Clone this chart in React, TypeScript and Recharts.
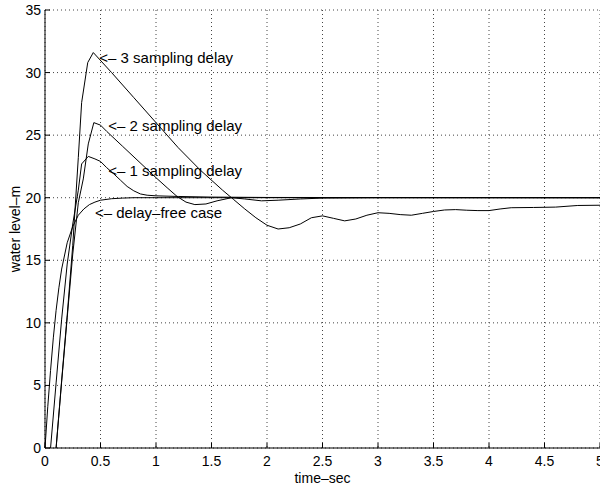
import {
  CartesianGrid,
  Label,
  Line,
  LineChart,
  ReferenceDot,
  XAxis,
  YAxis,
} from "recharts";

const xTicks = [0, 0.5, 1, 1.5, 2, 2.5, 3, 3.5, 4, 4.5, 5];
const yTicks = [0, 5, 10, 15, 20, 25, 30, 35];

// delay-free case
const freeT = [0, 0.025, 0.05, 0.075, 0.1, 0.125, 0.15, 0.2, 0.25, 0.3, 0.35, 0.4, 0.45, 0.5, 0.6, 0.7, 0.8, 1, 5];
const freeY = [0, 3.3, 6.2, 8.8, 11, 12.8, 14.3, 16.4, 17.7, 18.6, 19.1, 19.45, 19.65, 19.8, 19.92, 19.97, 20, 20, 20];

// 1 sampling delay
const d1T = [0.05, 0.1, 0.15, 0.2, 0.25, 0.3, 0.33, 0.39, 0.45, 0.5, 0.556, 0.62, 0.68, 0.74, 0.8, 0.86, 0.92, 1, 1.2, 1.5, 2, 5];
const d1Y = [0, 5.2, 10.3, 14.7, 17.9, 20.6, 22.7, 23.3, 23.1, 22.9, 22.4, 21.9, 21.4, 20.9, 20.55, 20.3, 20.2, 20.15, 20.1, 20.05, 20.02, 20];

// 2 sampling delay
const d2T = [0.1, 0.15, 0.2, 0.25, 0.3, 0.345, 0.39, 0.44, 0.5, 0.556, 0.7, 0.856, 1, 1.1, 1.19, 1.27, 1.35, 1.45, 1.55, 1.68, 1.8, 1.95, 2.1, 2.3, 2.5, 3, 5];
const d2Y = [0, 5.3, 10.4, 15.5, 19.6, 21.5, 24.3, 26, 25.8, 25.3, 24.1, 22.8, 21.6, 20.8, 20.1, 19.65, 19.45, 19.5, 19.75, 20, 19.9, 19.75, 19.8, 19.9, 19.97, 20, 20];

// 3 sampling delay
const d3T = [0.1, 0.15, 0.2, 0.25, 0.3, 0.33, 0.385, 0.435, 0.6, 0.8, 1, 1.2, 1.4, 1.6, 1.7, 1.8, 1.9, 2, 2.1, 2.2, 2.3, 2.4, 2.5, 2.6, 2.7, 2.8, 2.9, 3, 3.1, 3.2, 3.3, 3.4, 3.5, 3.6, 3.7, 3.8, 3.9, 4, 4.1, 4.2, 4.4, 4.6, 4.8, 5];
const d3Y = [0, 5.4, 10.6, 16.2, 23.2, 27.6, 30.8, 31.6, 30, 28, 26, 24, 22.2, 20.6, 19.85, 19.1, 18.4, 17.8, 17.5, 17.6, 17.9, 18.4, 18.55, 18.35, 18.15, 18.3, 18.6, 18.8, 18.75, 18.65, 18.6, 18.75, 18.9, 19.02, 19.05, 19, 18.97, 18.97, 19.1, 19.2, 19.22, 19.25, 19.38, 19.4];

const noteText = ["<\u2013 3 sampling delay", "<\u2013 2 sampling delay", "<\u2013 1 sampling delay", "<\u2013 delay\u2013free case"];
const noteX = [0.489, 0.57, 0.57, 0.45];
const noteY = [31.18, 25.76, 22.2, 18.8];

const toPoints = (t: number[], v: number[]) => t.map((x, i) => ({ t: x, v: v[i] }));

const series = [
  toPoints(freeT, freeY),
  toPoints(d1T, d1Y),
  toPoints(d2T, d2Y),
  toPoints(d3T, d3Y),
];

const font = "'Liberation Sans', Arial, Helvetica, sans-serif";
const fmt = (v: number) => String(v);

const BottomTick = ({ x, y, payload }: any) => (
  <g>
    <line x1={x} x2={x} y1={y} y2={y - 5} stroke="#000" />
    <text x={x} y={y + 18} textAnchor="middle" fontSize={14} fontFamily={font} fill="#000">
      {fmt(payload.value)}
    </text>
  </g>
);

const LeftTick = ({ x, y, payload }: any) => (
  <g>
    <line x1={x} x2={x + 5} y1={y} y2={y} stroke="#000" />
    <text x={x - 4} y={y + 5} textAnchor="end" fontSize={14} fontFamily={font} fill="#000">
      {fmt(payload.value)}
    </text>
  </g>
);

const TopTick = ({ x, y }: any) => <line x1={x} x2={x} y1={y} y2={y + 5} stroke="#000" />;
const RightTick = ({ x, y }: any) => <line x1={x} x2={x - 5} y1={y} y2={y} stroke="#000" />;

export default function App() {
  return (
    <div style={{ position: "absolute", left: 0, top: 0, background: "#fff" }}>
      <LineChart width={600} height={488} margin={{ top: 10, right: 0, bottom: 0, left: 0 }}>
        <CartesianGrid stroke="#444" strokeDasharray="1 3" horizontalValues={yTicks} verticalValues={xTicks} />
        <XAxis
          dataKey="t"
          type="number"
          domain={[0, 5]}
          ticks={xTicks}
          height={40}
          tickSize={0}
          tickMargin={0}
          tickLine={false}
          tick={<BottomTick />}
          axisLine={{ stroke: "#000" }}
          interval={0}
        >
          <Label value={"time\u2013sec"} position="insideBottom" offset={5} fontSize={14} fontFamily={font} fill="#000" />
        </XAxis>
        <XAxis
          xAxisId="top"
          orientation="top"
          type="number"
          domain={[0, 5]}
          ticks={xTicks}
          height={0}
          tickSize={0}
          tickMargin={0}
          tickLine={false}
          tick={<TopTick />}
          axisLine={{ stroke: "#000" }}
          interval={0}
        />
        <YAxis
          type="number"
          domain={[0, 35]}
          ticks={yTicks}
          width={45}
          tickSize={0}
          tickMargin={0}
          tickLine={false}
          tick={<LeftTick />}
          axisLine={{ stroke: "#000" }}
          interval={0}
        >
          <Label
            value={"water level\u2013m"}
            angle={-90}
            position="insideLeft"
            offset={15}
            fontSize={14}
            fontFamily={font}
            fill="#000"
            style={{ textAnchor: "middle" }}
          />
        </YAxis>
        <YAxis
          yAxisId="right"
          orientation="right"
          type="number"
          domain={[0, 35]}
          ticks={yTicks}
          width={0}
          tickSize={0}
          tickMargin={0}
          tickLine={false}
          tick={<RightTick />}
          axisLine={{ stroke: "#000" }}
          interval={0}
        />
        {series.map((d, i) => (
          <Line
            key={i}
            data={d}
            dataKey="v"
            type="linear"
            stroke="#000"
            strokeWidth={1}
            dot={false}
            activeDot={false}
            isAnimationActive={false}
          />
        ))}
        {noteText.map((s, i) => (
          <ReferenceDot
            key={s}
            x={noteX[i]}
            y={noteY[i]}
            r={0}
            stroke="none"
            fill="none"
            label={{ value: s, position: "right", offset: 0, fontSize: 15, fontFamily: font, fill: "#000" }}
          />
        ))}
      </LineChart>
    </div>
  );
}
